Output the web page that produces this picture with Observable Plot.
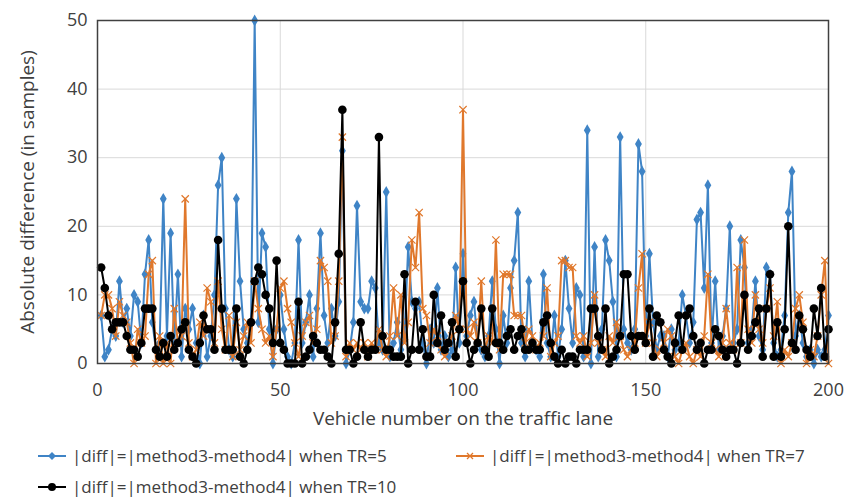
<!DOCTYPE html>
<html><head><meta charset="utf-8">
<script src="https://cdn.jsdelivr.net/npm/d3@7"></script>
<script src="https://cdn.jsdelivr.net/npm/@observablehq/plot@0.6"></script>
<style>
body{margin:0;background:#fff;font-family:"Open Sans",sans-serif;color:#404040;}
#wrap{position:relative;width:847px;height:497px;overflow:hidden;}
#legend{position:absolute;left:0;top:0;width:847px;height:497px;pointer-events:none;}
.item{position:absolute;display:flex;align-items:center;font-size:17px;line-height:20px;white-space:nowrap;color:#404040;}
.item svg{margin-right:6px;}
</style></head><body><div id="wrap"><div id="chart"></div><div id="legend"></div></div>
<script>
const vehicles = d3.range(1, 201);
const tr5 = [7,1,2,5,4,12,6,8,4,10,9,3,13,18,6,2,3,24,4,19,3,13,1,8,5,8,3,0,7,1,4,10,26,30,8,2,1,24,12,5,3,6,50,6,19,17,5,0,5,10,
5,1,0,3,18,3,6,10,1,8,19,7,3,8,4,9,31,0,2,6,23,9,8,8,12,11,3,2,25,1,3,6,2,4,17,9,8,9,3,0,5,3,11,2,4,1,2,14,3,16,
4,7,9,3,2,1,4,12,5,0,7,3,11,15,22,3,1,12,3,2,1,13,3,1,7,1,5,15,8,3,11,10,1,34,0,17,1,5,18,15,9,1,33,5,3,2,5,32,28,4,
16,6,2,4,4,1,5,2,3,10,7,3,6,21,22,11,26,3,12,2,4,8,20,3,5,18,14,3,5,12,4,2,14,13,3,1,2,7,22,28,4,7,3,1,2,0,2,1,2,7];
const tr7 = [7,10,10,8,4,9,7,6,3,0,5,3,4,13,15,0,4,0,3,0,8,3,4,24,3,1,2,6,4,11,9,3,12,5,2,7,1,6,2,4,6,3,12,8,5,3,4,1,5,11,
12,8,6,3,1,4,6,7,3,5,15,14,12,3,4,12,33,1,3,2,3,2,3,1,3,2,5,2,1,4,11,4,10,3,6,18,14,22,8,7,3,5,4,2,1,3,4,7,5,37,
5,4,6,3,12,2,4,3,18,2,13,13,13,7,7,7,3,5,4,2,3,4,11,1,3,4,15,15,14,14,4,3,4,1,3,10,3,2,1,4,3,6,4,2,1,2,3,11,16,3,
6,3,1,2,3,5,4,1,0,2,3,1,0,2,1,4,13,3,2,1,3,8,3,2,14,3,18,5,3,10,5,3,8,11,4,9,0,2,1,3,8,10,6,0,2,1,4,10,15,0];
const tr10 = [14,11,7,5,6,6,6,4,2,2,1,3,8,8,8,2,1,3,1,4,2,3,5,6,2,1,0,3,7,5,5,2,18,8,2,2,2,8,1,0,2,6,12,14,13,10,8,3,15,3,
2,0,0,0,9,0,1,2,4,3,2,2,1,0,6,16,37,2,2,0,1,6,2,1,2,2,33,4,2,2,1,1,1,13,0,2,9,2,5,1,1,10,3,7,2,3,6,1,5,12,
3,0,2,3,8,2,1,8,3,3,2,4,5,2,4,5,2,2,3,2,2,6,7,3,1,0,2,0,1,1,0,2,2,2,8,8,4,2,8,0,1,2,4,13,13,4,2,4,4,3,
8,1,7,6,2,1,0,3,7,2,7,8,4,2,3,0,2,2,5,4,2,1,2,2,0,3,10,2,4,6,8,1,8,13,1,6,1,5,20,3,2,7,5,2,1,8,4,11,1,5];
const xTicks = [0, 50, 100, 150, 200];
const yTicks = [0, 10, 20, 30, 40, 50];
const seriesNames = ["|diff|=|method3-method4| when TR=5", "|diff|=|method3-method4| when TR=7", "|diff|=|method3-method4| when TR=10"];
const colors = ["#3f84c6", "#e0782c", "#000000"];

const rows = (vals) => vehicles.map((v, i) => ({x: v, y: vals[i]}));
const d5 = rows(tr5), d7 = rows(tr7), d10 = rows(tr10);

const chart = Plot.plot({
  width: 847, height: 440,
  marginLeft: 97, marginRight: 19, marginTop: 20, marginBottom: 77,
  style: {fontFamily: "Open Sans, sans-serif", fontSize: "17px", color: "#404040", background: "#fff", overflow: "visible"},
  x: {domain: [0, 200], ticks: xTicks, tickSize: 0, tickPadding: 20, label: null},
  y: {domain: [0, 50], ticks: yTicks, tickSize: 0, tickPadding: 10, label: null},
  marks: [
    Plot.gridY(yTicks.slice(1, -1), {stroke: "#d9d9d9", strokeOpacity: 1}),
    Plot.gridX(xTicks.slice(1, -1), {stroke: "#d9d9d9", strokeOpacity: 1}),
    Plot.line(d5, {x: "x", y: "y", stroke: colors[0], strokeWidth: 2}),
    Plot.dot(d5, {x: "x", y: "y", symbol: "diamond", fill: colors[0], r: 3.6}),
    Plot.line(d7, {x: "x", y: "y", stroke: colors[1], strokeWidth: 2}),
    Plot.dot(d7, {x: "x", y: "y", symbol: "times", stroke: colors[1], strokeWidth: 1.2, r: 3.4}),
    Plot.line(d10, {x: "x", y: "y", stroke: colors[2], strokeWidth: 2}),
    Plot.dot(d10, {x: "x", y: "y", symbol: "circle", fill: colors[2], r: 4.3}),
    Plot.frame({stroke: "#404040", strokeWidth: 1.5}),
    Plot.axisX(xTicks, {tickSize: 0, tickPadding: 20, fontSize: 18, fill: "#404040"}),
    Plot.axisY(yTicks, {tickSize: 0, tickPadding: 10, fontSize: 18, fill: "#404040"}),
    Plot.text(["Vehicle number on the traffic lane"], {frameAnchor: "bottom", dy: 61, fontSize: 19, fill: "#404040"}),
    Plot.text(["Absolute difference (in samples)"], {frameAnchor: "left", dx: -70, rotate: -90, textAnchor: "middle", fontSize: 19, fill: "#404040"})
  ]
});
document.getElementById("chart").appendChild(chart);

const legendPos = [[38, 446], [456, 446], [38, 477]];
const legend = document.getElementById("legend");
seriesNames.forEach((name, i) => {
  const div = document.createElement("div");
  div.className = "item";
  div.style.left = legendPos[i][0] + "px";
  div.style.top = legendPos[i][1] + "px";
  let marker;
  if (i === 0) marker = `<path d="M14,3 L18,7 L14,11 L10,7 Z" fill="${colors[0]}"/>`;
  else if (i === 1) marker = `<path d="M11,4 L17,10 M17,4 L11,10" stroke="${colors[1]}" stroke-width="1.3"/>`;
  else marker = `<circle cx="14" cy="7" r="4" fill="${colors[2]}"/>`;
  div.innerHTML = `<svg width="28" height="14"><line x1="0" y1="7" x2="28" y2="7" stroke="${colors[i]}" stroke-width="2"/>${marker}</svg><span>${name}</span>`;
  legend.appendChild(div);
});
</script></body></html>
